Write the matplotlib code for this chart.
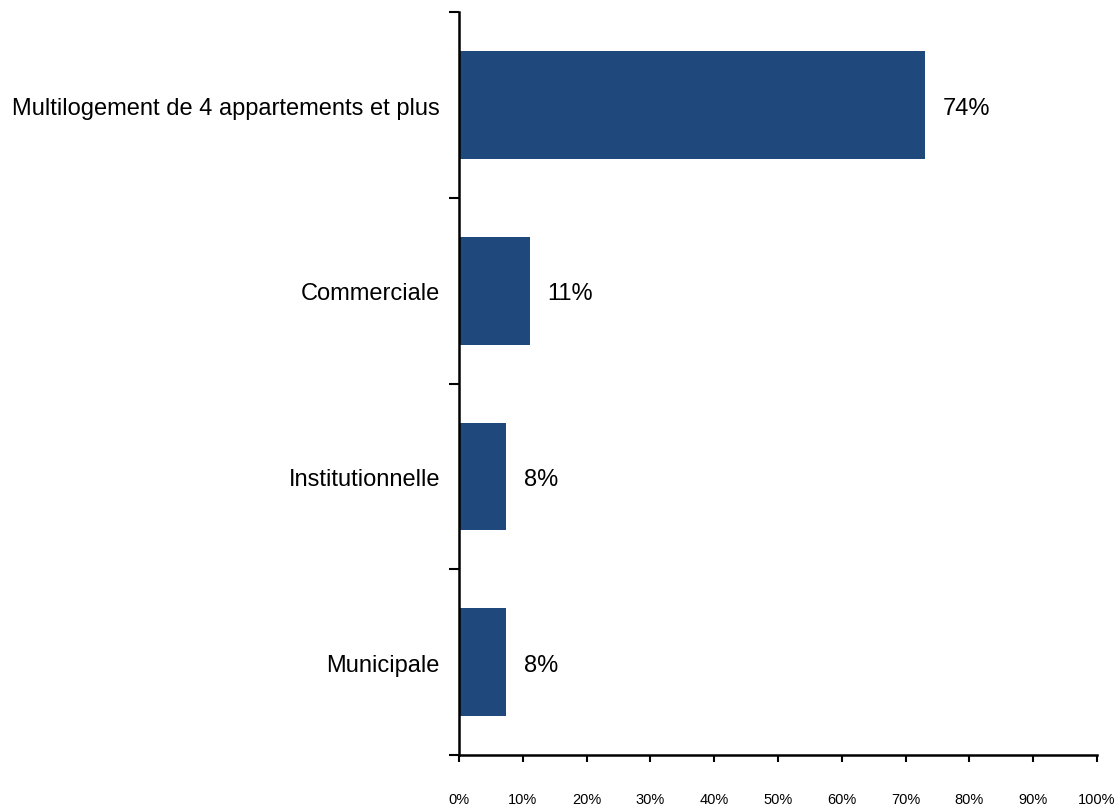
import matplotlib.pyplot as plt

categories = ['Multilogement de 4 appartements et plus', 'Commerciale',
              'Institutionnelle', 'Municipale']
values = [73.1, 11.1, 7.4, 7.4]
value_labels = ['74%', '11%', '8%', '8%']
xticks = [0, 10, 20, 30, 40, 50, 60, 70, 80, 90, 100]

plt.rcParams['font.family'] = ['Liberation Sans', 'DejaVu Sans']

fig = plt.figure(figsize=(11.17, 8.11), dpi=100)
ax = fig.add_axes([0.411, 0.069, 0.571, 0.916])

ypos = list(range(len(categories)))[::-1]
ax.barh(ypos, values, height=0.58, color='#1f497d')
for y, v, lab in zip(ypos, values, value_labels):
    ax.text(v + 2.8, y - 0.02, lab, va='center', ha='left', fontsize=17)

ax.set_xlim(0, 100)
ax.set_ylim(-0.5, 3.5)
ax.set_xticks(xticks)
ax.set_xticklabels([f'{t}%' for t in xticks], fontsize=10.5)
ax.tick_params(axis='x', direction='out', length=5, width=1.5, pad=22)

# category boundaries get the tick marks, names sit in between
ax.set_yticks([-0.5, 0.5, 1.5, 2.5, 3.5])
ax.set_yticklabels([])
ax.tick_params(axis='y', direction='out', length=7, width=1.5)
for y, name in zip(ypos, categories):
    ax.text(-3.0, y - 0.02, name, va='center', ha='right', fontsize=17)

for s in ['top', 'right']:
    ax.spines[s].set_visible(False)
for s in ['left', 'bottom']:
    ax.spines[s].set_linewidth(1.8)

fig.savefig('out.png', dpi=100)
